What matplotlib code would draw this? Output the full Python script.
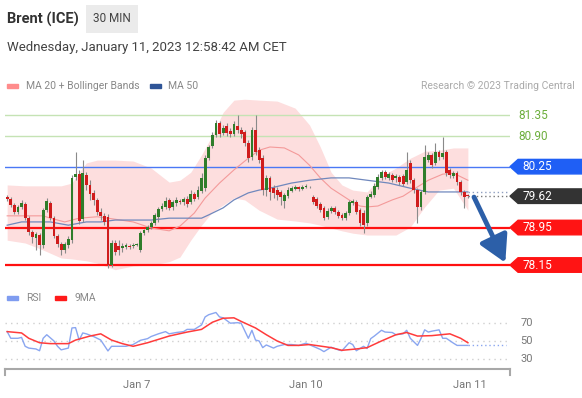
import numpy as np
import matplotlib
matplotlib.use("Agg")
import matplotlib.pyplot as plt
from matplotlib.patches import Polygon, Rectangle
import matplotlib.transforms as mtransforms

plt.rcParams['font.family'] = ['Roboto', 'DejaVu Sans']

# 30 min candles, Brent (ICE)
opens = [79.60, 79.56, 79.43, 79.28, 79.39, 79.45, 79.15, 78.86, 78.73, 78.79,
         78.58, 79.32, 79.47, 79.15, 78.77, 78.60, 78.47, 78.58, 78.68, 80.03,
         80.09, 79.13, 80.07, 79.86, 79.69, 79.54, 79.28, 79.20, 79.18, 78.15,
         78.62, 78.56, 78.51, 78.54, 78.56, 78.56, 78.58, 78.47, 78.83, 78.90,
         78.96, 79.05, 79.18, 79.35, 79.39, 79.54, 79.39, 79.47, 79.52, 79.50,
         79.56, 79.50, 79.67, 79.60, 79.73, 79.79, 80.43, 80.69, 80.92, 81.18,
         80.97, 81.12, 81.01, 80.94, 81.12, 81.03, 80.99, 80.75, 80.45, 81.03,
         80.60, 80.43, 79.75, 80.01, 79.79, 79.75, 79.71, 79.52, 79.62, 79.73,
         79.77, 79.81, 79.77, 79.81, 79.82, 79.60, 79.56, 79.45, 79.37, 79.18,
         79.30, 79.37, 79.28, 79.22, 79.15, 79.26, 79.47, 79.50, 79.32, 79.26,
         79.05, 79.60, 79.64, 79.81, 80.01, 80.13, 80.01, 80.07, 80.01, 80.03,
         80.05, 79.92, 80.33, 79.96, 79.75, 79.39, 79.71, 80.39, 80.50, 80.33,
         80.56, 80.45, 80.56, 80.18, 80.05, 80.11, 79.92, 79.71, 79.64]
closes = [79.56, 79.43, 79.28, 79.39, 79.47, 79.15, 78.86, 78.75, 78.81, 78.58,
          79.32, 79.52, 79.15, 78.77, 78.60, 78.47, 78.60, 78.71, 80.01, 80.09,
          79.09, 80.11, 79.86, 79.67, 79.54, 79.28, 79.20, 79.07, 78.15, 78.62,
          78.43, 78.47, 78.56, 78.58, 78.54, 78.58, 78.60, 78.83, 78.90, 78.96,
          79.05, 79.22, 79.35, 79.41, 79.52, 79.37, 79.50, 79.54, 79.50, 79.56,
          79.45, 79.67, 79.56, 79.75, 80.01, 80.43, 80.67, 80.92, 81.18, 80.94,
          81.07, 80.97, 80.94, 81.16, 81.03, 80.94, 80.75, 80.43, 81.03, 80.56,
          80.39, 79.75, 80.01, 79.71, 79.69, 79.64, 79.60, 79.64, 79.75, 79.79,
          79.81, 79.77, 79.81, 79.84, 79.81, 79.50, 79.41, 79.32, 79.15, 79.30,
          79.37, 79.28, 79.20, 79.15, 79.26, 79.50, 79.52, 79.28, 79.05, 79.00,
          79.60, 79.67, 79.84, 80.03, 80.13, 80.03, 80.09, 79.96, 80.05, 79.92,
          79.88, 80.18, 79.96, 79.75, 79.39, 79.71, 80.45, 80.50, 80.28, 80.56,
          80.45, 80.54, 80.11, 80.07, 80.11, 79.92, 79.71, 79.60, 79.62]
highs = [79.64, 79.60, 79.47, 79.43, 79.54, 79.50, 79.20, 78.90, 78.86, 78.83,
         79.37, 79.58, 79.52, 79.20, 78.81, 78.64, 78.64, 78.77, 80.07, 80.56,
         80.18, 80.39, 80.13, 79.96, 79.75, 79.58, 79.37, 79.26, 79.24, 78.68,
         78.68, 78.68, 78.62, 78.62, 78.60, 78.62, 78.62, 78.88, 78.92, 79.00,
         79.09, 79.26, 79.39, 79.47, 79.60, 79.58, 79.54, 79.60, 79.56, 79.60,
         79.62, 79.75, 79.71, 79.84, 80.11, 80.50, 80.71, 80.99, 81.24, 81.22,
         81.14, 81.18, 81.07, 81.22, 81.35, 81.09, 81.03, 80.82, 81.09, 81.35,
         80.67, 80.50, 80.07, 80.05, 79.86, 79.81, 79.75, 79.69, 79.81, 79.84,
         79.86, 79.84, 79.86, 79.88, 79.84, 79.64, 79.60, 79.50, 79.41, 79.37,
         79.41, 79.41, 79.32, 79.26, 79.30, 79.54, 79.56, 79.54, 79.37, 79.32,
         79.64, 79.73, 79.90, 80.09, 80.18, 80.18, 80.13, 80.11, 80.09, 80.07,
         80.09, 80.56, 80.39, 80.01, 79.79, 79.75, 80.71, 80.56, 80.54, 80.75,
         80.60, 80.88, 80.60, 80.22, 80.15, 80.15, 79.96, 79.75, 79.67]
lows = [79.52, 79.39, 79.24, 79.24, 79.35, 79.11, 78.79, 78.62, 78.47, 78.36,
        78.51, 79.28, 79.11, 78.73, 78.54, 78.36, 78.41, 78.51, 78.62, 79.96,
        79.03, 79.07, 79.75, 79.54, 79.43, 79.22, 79.11, 79.00, 78.09, 78.11,
        78.36, 78.36, 78.43, 78.49, 78.49, 78.51, 78.56, 78.43, 78.79, 78.86,
        78.92, 79.00, 79.07, 79.30, 79.35, 79.32, 79.32, 79.41, 79.45, 79.43,
        79.39, 79.45, 79.52, 79.56, 79.69, 79.73, 80.39, 80.65, 80.88, 80.88,
        80.92, 80.90, 80.88, 80.90, 80.97, 80.86, 80.69, 80.35, 80.39, 80.50,
        80.33, 79.64, 79.62, 79.54, 79.58, 79.54, 79.43, 79.37, 79.58, 79.71,
        79.75, 79.73, 79.75, 79.79, 79.79, 79.45, 79.37, 79.28, 79.11, 79.13,
        79.26, 79.24, 79.15, 79.11, 79.11, 79.22, 79.43, 79.24, 78.98, 78.83,
        78.98, 79.58, 79.60, 79.77, 79.96, 79.99, 79.96, 79.92, 79.92, 79.86,
        79.84, 79.88, 79.90, 79.69, 79.05, 79.32, 79.67, 80.35, 80.22, 80.28,
        80.39, 80.41, 80.05, 80.01, 80.01, 79.86, 79.64, 79.37, 79.58]

# bollinger band (read at these candle positions)
band_idx = [0, 5, 10, 15, 18, 20, 22, 25, 30, 35, 40, 45, 48, 51, 54, 57, 60, 63,
            66, 70, 75, 80, 84, 87, 90, 93, 96, 100, 104, 108, 112, 116, 120, 124, 128]
band_up = [79.86, 79.84, 79.84, 79.84, 79.90, 80.13, 80.33, 80.39, 80.39, 80.37,
           80.22, 79.92, 79.96, 80.13, 80.50, 80.92, 81.41, 81.67, 81.69, 81.67,
           81.65, 81.50, 81.14, 80.67, 80.13, 79.86, 79.75, 79.71, 80.05, 80.22,
           80.43, 80.58, 80.60, 80.65, 80.65]
band_lo = [78.68, 78.62, 78.47, 78.30, 78.28, 78.26, 78.24, 78.19, 78.05, 78.13,
           78.15, 78.22, 78.32, 78.68, 79.00, 79.28, 79.43, 79.58, 79.54, 79.32,
           79.13, 79.09, 79.05, 79.00, 78.94, 78.88, 78.83, 78.79, 78.79, 78.79,
           78.96, 79.39, 79.75, 79.79, 79.32]

ma20_idx = [0, 10, 12, 16, 20, 25, 28, 35, 40, 45, 48, 52, 55, 59, 63, 67, 70, 73,
            77, 81, 84, 87, 90, 95, 98, 100, 103, 107, 110, 113, 117, 121, 124, 128]
ma20 = [79.20, 79.20, 79.15, 79.07, 79.15, 79.18, 79.15, 79.07, 78.94, 78.88,
        78.98, 79.26, 79.58, 79.90, 80.18, 80.43, 80.60, 80.67, 80.65, 80.50,
        80.28, 80.01, 79.79, 79.54, 79.41, 79.39, 79.41, 79.54, 79.62, 79.77,
        79.96, 80.09, 80.11, 79.96]

ma50_idx = [0, 4, 8, 12, 17, 22, 26, 30, 40, 45, 54, 56, 60, 63, 67, 70, 73, 79,
            84, 90, 95, 100, 106, 112, 117, 123, 128]
ma50 = [79.00, 79.07, 79.07, 79.07, 79.00, 79.07, 79.07, 79.11, 79.11, 79.15,
        79.15, 79.22, 79.37, 79.54, 79.69, 79.75, 79.79, 79.90, 79.96, 80.01,
        80.01, 79.96, 79.90, 79.79, 79.71, 79.71, 79.71]

rsi_idx = [0, 1, 3, 4, 5, 6, 8, 9, 10, 11, 13, 14, 15, 17, 18, 19, 20, 21, 22, 24,
           26, 28, 29, 31, 33, 35, 37, 39, 40, 42, 44, 45, 47, 49, 50, 52, 54, 55,
           56, 58, 59, 60, 62, 64, 65, 67, 68, 69, 70, 71, 72, 74, 75, 77, 79, 81,
           83, 85, 87, 88, 90, 92, 93, 95, 96, 97, 99, 100, 101, 102, 104, 105,
           107, 108, 110, 111, 112, 114, 115, 116, 117, 118, 120, 121, 122, 124,
           125, 127, 128]
rsi = [60.5, 53, 53, 54, 44, 42, 41, 39, 53, 57, 50, 44, 40, 42, 64.6, 65, 51, 59,
       58, 55, 51, 38.8, 44, 44, 44, 46, 50.7, 52.6, 55, 58, 60.5, 58, 59.5, 60.5,
       63, 63, 68, 77, 79.5, 82, 77, 76, 70, 70.5, 70, 53, 62, 51, 50, 42.5, 45.5,
       42, 44, 46, 46, 45, 47.5, 44, 40.5, 38, 43, 40, 39, 48, 46, 39, 44, 41.5,
       52.6, 55.5, 62, 60, 59.5, 57, 58, 62, 53, 45, 53, 62.5, 60, 61, 62.5, 53,
       53, 47.5, 45, 45, 45]
rsi_ma_idx = [0, 4, 6, 9, 12, 17, 19, 23, 26, 29, 32, 35, 39, 45, 50, 54, 57, 60,
              63, 65, 69, 72, 75, 78, 81, 84, 90, 93, 97, 100, 104, 108, 111, 114,
              118, 123, 126, 128]
rsi_ma = [60.5, 59, 53, 48, 47, 47, 51, 55.5, 58, 51, 47, 44, 48, 55.5, 60, 63,
          71, 75.5, 76, 72, 64.6, 57, 50, 45, 45, 46, 42.5, 39.5, 41, 42.5, 50,
          57, 59.5, 55.5, 56, 58, 53, 48]

green_levels = [81.35, 80.90]
resist = 80.25
last_price = 79.62
supports = [78.95, 78.15]
tick_pos = [36, 83, 128.5]
tick_lab = ["Jan 7", "Jan 10", "Jan 11"]

W, H = 582, 398
fig = plt.figure(figsize=(W / 100, H / 100), dpi=100)
x = np.arange(len(closes))
xl = (-0.6, 139.7)

ax = fig.add_axes([5 / W, 1 - 280 / H, 505 / W, 185 / H])
ax.set_xlim(xl)
ax.set_ylim(77.83, 81.78)
ax.axis('off')

ax.fill_between(band_idx, band_lo, band_up, color='#fddede', lw=0, zorder=1)
ax.plot(ma20_idx, ma20, color='#f49a9a', lw=0.8, zorder=2)
ax.plot(ma50_idx, ma50, color='#7088bd', lw=0.9, zorder=2)

for g in green_levels:
    ax.axhline(g, color='#c5e3b4', lw=1, zorder=1.5)
ax.axhline(resist, color='#4a78f5', lw=1, zorder=1.5)
for s in supports:
    ax.axhline(s, color='#ff1010', lw=1.6, zorder=1.5)

o = np.array(opens)
c = np.array(closes)
up = c >= o
ax.vlines(x, lows, highs, color='#8a8a8a', lw=0.8, zorder=3)
body = np.maximum(np.abs(c - o), 0.012)
ax.bar(x[up], body[up], bottom=o[up], width=0.78, color='#2f7d2a', zorder=4)
ax.bar(x[~up], body[~up], bottom=c[~up], width=0.78, color='#d01c1c', zorder=4)

ax.hlines(ma50[-1], x[-1], xl[1], color='#8f9fc0', lw=1, linestyles=(0, (1, 2)), zorder=2)
ax.hlines(last_price, x[-1], xl[1], color='#777777', lw=1, linestyles=(0, (1, 2)), zorder=2)

ax.annotate('', xy=(138.4, 78.20), xytext=(129.7, 79.60),
            arrowprops=dict(arrowstyle='-|>,head_length=0.8,head_width=0.45',
                            color='#2c5fa8', lw=3.5, mutation_scale=20,
                            shrinkA=0, shrinkB=0), zorder=6)

# price tags on the right
tr = mtransforms.blended_transform_factory(ax.transAxes, ax.transData)
h = 0.155
def tag(y, color):
    pts = [(1.0, y), (1.016, y + h), (1.16, y + h), (1.16, y - h), (1.016, y - h)]
    ax.add_patch(Polygon(pts, closed=True, transform=tr, color=color, clip_on=False, zorder=5))
    ax.text(1.024, y, f"{y:.2f}", transform=tr, color='white', fontsize=8.5,
            va='center', ha='left', zorder=6)

for g in green_levels:
    ax.text(1.016, g, f"{g:.2f}", transform=tr, color='#6cae3c', fontsize=8.5,
            va='center', ha='left')
tag(resist, '#1f5ff5')
tag(last_price, '#333333')
for s in supports:
    tag(s, '#ff1414')

# RSI panel
ax2 = fig.add_axes([5 / W, 1 - 369 / H, 505 / W, 64 / H])
ax2.set_xlim(xl)
ax2.set_ylim(18.5, 90.4)
for lvl in (70, 50, 30):
    ax2.axhline(lvl, color='#cfcfcf', lw=1, ls=(0, (1, 3)), zorder=1)
    ax2.text(1.02, lvl, str(lvl), transform=mtransforms.blended_transform_factory(ax2.transAxes, ax2.transData),
             color='#777777', fontsize=8, va='center')
ax2.plot(rsi_idx, rsi, color='#8aa6f0', lw=1, zorder=2)
ax2.hlines(rsi[-1], rsi_idx[-1], 138.6, color='#8aa6f0', lw=1, linestyles=(0, (1, 2)))
ax2.plot(rsi_ma_idx, rsi_ma, color='#ff3b3b', lw=1.1, zorder=3)
for sp in ('top', 'left', 'right'):
    ax2.spines[sp].set_visible(False)
ax2.spines['bottom'].set_color('#a8a8a8')
ax2.spines['bottom'].set_linewidth(1.5)
ax2.set_yticks([])
ax2.set_xticks(tick_pos)
ax2.set_xticklabels(tick_lab)
ax2.tick_params(axis='x', length=0, pad=8, labelsize=8, labelcolor='#777777')
for xe in (0, 1):
    ax2.plot([xe, xe], [0, -0.09], transform=ax2.transAxes, color='#a8a8a8', lw=1.5, clip_on=False)

# header + legends
fig.text(7 / W, 1 - 19 / H, 'Brent (ICE)', fontsize=10.5, fontweight='bold', color='#333333', va='center')
fig.text(112 / W, 1 - 19 / H, '30 MIN', fontsize=8.5, color='#444444', va='center', ha='center',
         bbox=dict(boxstyle='square,pad=0.6', fc='#ebebeb', ec='none'))
fig.text(7 / W, 1 - 47 / H, 'Wednesday, January 11, 2023 12:58:42 AM CET', fontsize=9.5,
         color='#444444', va='center')

def swatch(xp, yp, color):
    fig.patches.append(Rectangle((xp / W, 1 - (yp + 2) / H), 11 / W, 4 / H,
                                 transform=fig.transFigure, color=color))

swatch(7, 86, '#ff8c8c')
fig.text(26 / W, 1 - 86 / H, 'MA 20 + Bollinger Bands', fontsize=7.5, color='#888888', va='center')
swatch(150, 86, '#2f5597')
fig.text(168 / W, 1 - 86 / H, 'MA 50', fontsize=7.5, color='#888888', va='center')
fig.text(575 / W, 1 - 86 / H, 'Research \u00a9 2023 Trading Central', fontsize=7.5,
         color='#aaaaaa', va='center', ha='right')
swatch(7, 298, '#7f9cf0')
fig.text(26 / W, 1 - 298 / H, 'RSI', fontsize=7.5, color='#888888', va='center')
swatch(55, 298, '#ff1a1a')
fig.text(75 / W, 1 - 298 / H, '9MA', fontsize=7.5, color='#888888', va='center')

fig.savefig('out.png', dpi=100)
